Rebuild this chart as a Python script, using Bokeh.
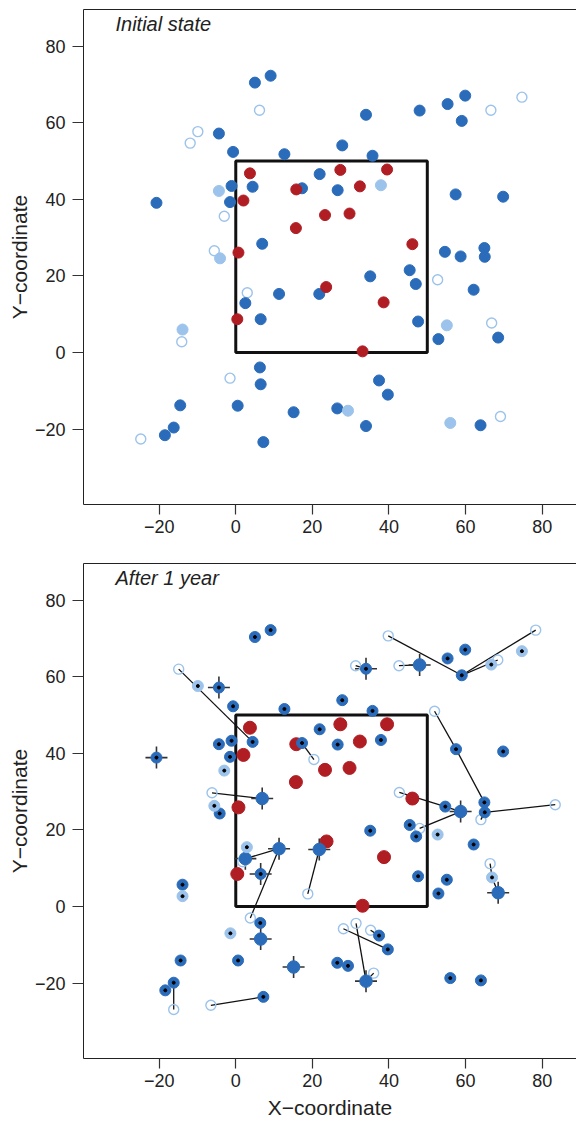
from bokeh.plotting import figure
from bokeh.models import Range1d, FixedTicker, Label, LinearAxis
from bokeh.layouts import column
from bokeh.embed import file_html
from bokeh.resources import INLINE

# ---------------- data ----------------
x_ticks = [-20, 0, 20, 40, 60, 80]
x_tick_labels = ["\u221220", "0", "20", "40", "60", "80"]
y_ticks = [-20, 0, 20, 40, 60, 80]
y_tick_labels = ["\u221220", "0", "20", "40", "60", "80"]

box_x0, box_x1, box_y0, box_y1 = 0, 50, 0, 50

# Initial state
top_dark_x = [5.0, 9.1, -4.4, -0.7, 12.7, 21.9, 17.3, -1.1, 4.4, -20.7, -1.5, 6.9,
              59.9, 55.3, 48.0, 59.0, 34.0, 27.8, 35.7, 26.6, 57.4, 69.8, 54.6, 58.7,
              64.9, 65.0, 11.3, 21.8, 2.5, 6.5, 6.3, 6.5, -14.5, 0.5, 15.1, -16.2,
              -18.5, 7.2, 35.1, 45.4, 47.0, 62.1, 47.6, 52.9, 68.5, 37.4, 39.7, 26.5,
              34.0, 63.9]
top_dark_y = [70.5, 72.3, 57.2, 52.4, 51.8, 46.6, 42.9, 43.5, 43.3, 39.1, 39.3, 28.4,
              67.1, 64.9, 63.2, 60.5, 62.1, 54.1, 51.4, 42.4, 41.3, 40.7, 26.3, 25.1,
              27.3, 25.0, 15.3, 15.3, 12.9, 8.7, -3.9, -8.3, -13.8, -13.9, -15.6, -19.6,
              -21.6, -23.4, 19.9, 21.5, 17.9, 16.4, 8.1, 3.5, 3.9, -7.3, -11.0, -14.6,
              -19.2, -19.0]
top_red_x = [3.7, 15.8, 2.0, 23.3, 15.7, 0.7, 27.3, 39.5, 32.4, 29.7, 46.1, 23.6, 38.6, 0.4, 33.1]
top_red_y = [46.8, 42.6, 39.7, 35.9, 32.5, 26.1, 47.7, 47.8, 43.4, 36.3, 28.3, 17.1, 13.1, 8.7, 0.3]
top_light_x = [-4.4, -4.1, 37.9, -13.9, 55.1, 29.3, 56.0]
top_light_y = [42.2, 24.6, 43.7, 6.0, 7.1, -15.2, -18.4]
top_open_x = [6.2, -9.9, -11.9, -3.0, -5.6, 74.7, 66.6, 3.0, -14.1, -1.5, -24.8, 52.7, 66.8, 69.1]
top_open_y = [63.3, 57.7, 54.7, 35.6, 26.6, 66.7, 63.3, 15.6, 2.8, -6.7, -22.6, 19.0, 7.7, -16.7]

# After 1 year
bot_dot_x = [5.0, 9.1, 4.4, -0.7, 12.7, 21.9, 17.3, -4.4, -1.1, -1.5, -4.2,
             59.0, 55.3, 59.9, 27.8, 35.7, 26.6, 37.9, 57.5, 69.8, 54.7, 65.0, 64.9,
             35.1, 45.4, 47.1, 62.1, 47.6, 55.1, 52.9, 39.7, 37.4, 26.5, 29.3, 56.0,
             64.0, -13.9, 6.4, -14.4, 0.6, -16.2, -18.4, 7.2]
bot_dot_y = [70.4, 72.2, 43.0, 52.3, 51.6, 46.3, 42.7, 42.4, 43.3, 39.1, 24.3,
             60.4, 64.8, 67.1, 53.9, 51.1, 42.3, 43.5, 41.1, 40.5, 26.1, 24.6, 27.2,
             19.8, 21.3, 18.3, 16.2, 7.9, 7.0, 3.4, -11.2, -7.6, -14.7, -15.5, -18.7,
             -19.3, 5.7, -4.3, -14.1, -14.1, -19.9, -21.9, -23.6]
bot_cross_dot_x = [-4.4, -20.7, 6.5, 34.0]
bot_cross_dot_y = [57.2, 38.9, 8.5, 62.1]
bot_cross_x = [6.9, 11.3, 21.8, 6.5, 15.1, 34.0, 48.0, 58.7, 68.5, 2.5]
bot_cross_y = [28.2, 15.1, 14.9, -8.5, -15.8, -19.5, 63.1, 24.8, 3.6, 12.5]
bot_light_x = [-9.9, -3.0, -5.6, 66.7, 74.7, 52.7, 2.9, -13.9, -1.4, 66.9]
bot_light_y = [57.6, 35.5, 26.3, 63.2, 66.7, 18.8, 15.5, 2.7, -7.0, 7.6]
bot_red_x = [3.7, 15.8, 2.0, 23.3, 15.7, 0.7, 27.3, 39.5, 32.4, 29.7, 46.1, 23.7, 38.7, 0.4, 33.1]
bot_red_y = [46.7, 42.4, 39.6, 35.7, 32.5, 25.9, 47.6, 47.6, 43.1, 36.2, 28.2, 17.0, 12.9, 8.5, 0.2]
bot_open_x = [-14.9, 20.4, -6.2, 39.8, 78.3, 68.4, 31.3, 42.6, 51.9, 42.7, 83.4, 64.0,
              48.0, 1.8, 3.8, 18.8, -16.2, -6.5, 66.4, 28.1, 31.4, 35.2, 36.0]
bot_open_y = [62.0, 38.4, 29.7, 70.7, 72.2, 64.4, 62.9, 62.9, 51.0, 29.8, 26.6, 22.7,
              20.4, 11.7, -3.0, 3.3, -26.9, -25.8, 11.2, -5.8, -4.4, -6.2, -17.4]
seg_x0 = [-14.9, 17.3, -6.2, 39.8, 78.3, 68.4, 31.3, 42.6, 51.9, 57.5, 42.7, 54.7, 48.0,
          65.0, 64.0, 2.5, 11.3, 21.8, 2.5, -16.2, -6.5, 66.4, 66.9, 28.1, 31.4, 35.2, 36.0]
seg_y0 = [62.0, 42.7, 29.7, 70.7, 72.2, 64.4, 62.9, 62.9, 51.0, 41.1, 29.8, 26.1, 20.4,
          24.6, 22.7, 12.5, 15.1, 14.9, 12.5, -19.9, -25.8, 11.2, 7.6, -5.8, -4.4, -6.2, -17.4]
seg_x1 = [4.4, 20.4, 6.9, 59.0, 59.0, 59.0, 34.0, 48.0, 57.5, 64.9, 54.7, 58.7, 58.7,
          83.4, 65.0, 11.3, 3.8, 18.8, 2.9, -16.2, 7.2, 66.9, 68.5, 39.7, 34.0, 37.4, 34.0]
seg_y1 = [43.0, 38.4, 28.2, 60.4, 60.4, 60.4, 62.1, 63.1, 41.1, 27.2, 26.1, 24.8, 24.8,
          26.6, 24.6, 15.1, -3.0, 3.3, 15.5, -26.9, -23.6, 7.6, 3.6, -11.2, -19.5, -7.6, -19.5]

# ---------------- style ----------------
DARK = "#2b6cba"
RED = "#b01d23"
LIGHT = "#9cc3eb"
FONT = "Liberation Sans"
FRAME = "#222222"
X_RANGE = (-39.75, 88.95)
Y_RANGE = (-39.7, 89.6)


def make_fig(height, top, bottom, title, xlabel):
    p = figure(width=576, height=height, output_backend="svg", toolbar_location=None,
               x_range=Range1d(*X_RANGE), y_range=Range1d(*Y_RANGE),
               min_border_left=83, min_border_right=0,
               min_border_top=top, min_border_bottom=bottom)
    p.xgrid.visible = False
    p.ygrid.visible = False
    p.outline_line_color = None
    p.background_fill_color = "white"
    p.border_fill_color = "white"
    for ax, ticks, labels in ((p.xaxis, x_ticks, x_tick_labels), (p.yaxis, y_ticks, y_tick_labels)):
        ax.ticker = FixedTicker(ticks=ticks)
        ax.major_label_overrides = {t: l for t, l in zip(ticks, labels)}
        ax.axis_line_color = FRAME
        ax.axis_line_width = 1
        ax.major_tick_in = 0
        ax.major_tick_out = 11
        ax.major_tick_line_color = "#333333"
        ax.major_tick_line_width = 1.2
        ax.minor_tick_line_color = None
        ax.major_label_text_font = FONT
        ax.major_label_text_font_size = "18px"
        ax.major_label_text_color = "#222222"
        ax.axis_label_text_font = FONT
        ax.axis_label_text_font_size = "21px"
        ax.axis_label_text_font_style = "normal"
        ax.axis_label_text_color = "#222222"
    p.xaxis.major_tick_out = 10
    p.xaxis.major_label_standoff = 5
    p.yaxis.major_label_standoff = 7
    p.yaxis.axis_label = "Y\u2212coordinate"
    p.yaxis.axis_label_standoff = 1
    p.yaxis.major_label_orientation = "horizontal"
    if xlabel:
        p.xaxis.axis_label = xlabel
        p.xaxis.axis_label_standoff = 6
    # top frame edge (the right edge lies outside the picture, as in the original)
    top_axis = LinearAxis(ticker=FixedTicker(ticks=[]), axis_line_color=FRAME,
                          axis_line_width=1, major_tick_out=0, major_tick_in=0,
                          minor_tick_line_color=None, major_label_standoff=0,
                          major_label_text_font_size="0px")
    p.add_layout(top_axis, "above")
    p.quad(left=box_x0, right=box_x1, bottom=box_y0, top=box_y1,
           fill_color=None, line_color="#111111", line_width=3)
    p.add_layout(Label(x=-31.4, y=85.7, text=title, text_font=FONT,
                       text_font_size="20px", text_font_style="italic",
                       text_color="#222222", text_baseline="middle"))
    return p


p1 = make_fig(556, 9, 52, "Initial state", None)
p1.scatter(top_open_x, top_open_y, marker="circle", size=10, fill_color=None,
           line_color=LIGHT, line_width=1.4)
p1.scatter(top_dark_x, top_dark_y, marker="circle", size=11, color=DARK)
p1.scatter(top_light_x, top_light_y, marker="circle", size=11, color=LIGHT)
p1.scatter(top_red_x, top_red_y, marker="circle", size=11, color=RED)

p2 = make_fig(567, 7, 65, "After 1 year", "X\u2212coordinate")
p2.segment(seg_x0, seg_y0, seg_x1, seg_y1, line_color="#111111", line_width=1.3)
p2.scatter(bot_cross_x + bot_cross_dot_x, bot_cross_y + bot_cross_dot_y, marker="cross",
           size=22, line_color="#333333", line_width=1.6)
p2.scatter(bot_open_x, bot_open_y, marker="circle", size=10, fill_color=None,
           line_color=LIGHT, line_width=1.4)
p2.scatter(bot_red_x, bot_red_y, marker="circle", size=13, color=RED)
p2.scatter(bot_dot_x, bot_dot_y, marker="circle", size=11, color=DARK)
p2.scatter(bot_cross_dot_x, bot_cross_dot_y, marker="circle", size=11, color=DARK)
p2.scatter(bot_cross_x, bot_cross_y, marker="circle", size=12.5, color=DARK)
p2.scatter(bot_light_x, bot_light_y, marker="circle", size=11, color=LIGHT)
p2.scatter(bot_dot_x + bot_cross_dot_x + bot_light_x, bot_dot_y + bot_cross_dot_y + bot_light_y,
           marker="circle", size=3, color="black")

layout = column(p1, p2, spacing=0)
open("out.html", "w").write(file_html(layout, INLINE))
